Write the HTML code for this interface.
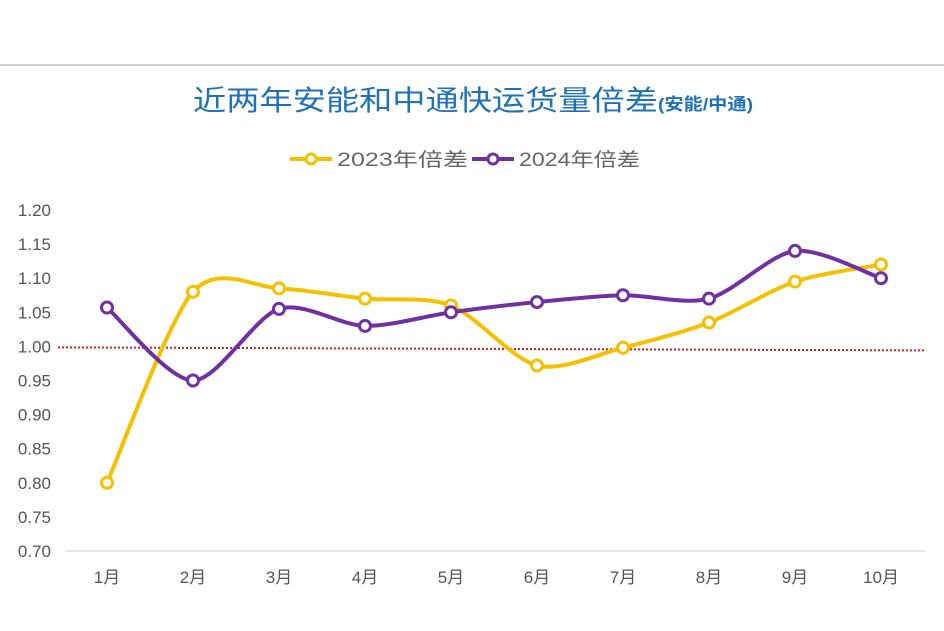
<!DOCTYPE html>
<html><head><meta charset="utf-8"><style>
body{margin:0;background:#fff;}
svg{display:block;font-family:"Liberation Sans","Noto Sans CJK SC",sans-serif;}
</style></head><body>
<svg id="c" width="944" height="631" viewBox="0 0 944 631">
<line x1="0" y1="65" x2="944" y2="65" stroke="#d0d0d0" stroke-width="2"/>
<text x="193" y="110" font-size="28" fill="#1f72b8"><tspan textLength="465" lengthAdjust="spacingAndGlyphs">近两年安能和中通快运货量倍差</tspan><tspan font-size="17" font-weight="bold" textLength="95" lengthAdjust="spacingAndGlyphs">(安能/中通)</tspan></text>
<g>
<g><line x1="290" y1="159" x2="332" y2="159" stroke="#f5c000" stroke-width="4"/><circle cx="311" cy="159" r="5" fill="#fff" stroke="#f5c000" stroke-width="3"/><text x="337" y="166" font-size="19" fill="#666" textLength="131" lengthAdjust="spacingAndGlyphs">2023年倍差</text></g>
<g><line x1="472" y1="159" x2="514" y2="159" stroke="#7030a0" stroke-width="4"/><circle cx="493" cy="159" r="5" fill="#fff" stroke="#7030a0" stroke-width="3"/><text x="519" y="166" font-size="19" fill="#666" textLength="121" lengthAdjust="spacingAndGlyphs">2024年倍差</text></g>
</g>
<g id="axes"></g><g id="plot"></g>
</svg>
<script>
const categories=["1月","2月","3月","4月","5月","6月","7月","8月","9月","10月"];
const series2023=[0.80,1.08,1.085,1.07,1.06,0.972,0.998,1.035,1.095,1.12];
const series2024=[1.057,0.95,1.055,1.03,1.05,1.065,1.075,1.07,1.14,1.10];
const yTicks=["0.70","0.75","0.80","0.85","0.90","0.95","1.00","1.05","1.10","1.15","1.20"];
const refValue=1.0;
const NS="http://www.w3.org/2000/svg";
const x0=107,dx=86,yBase=551,yMin=0.70,pxPer=682;
const X=i=>x0+i*dx, Y=v=>yBase-(v-yMin)*pxPer;
function mk(t,a,p){const e=document.createElementNS(NS,t);for(const k in a)e.setAttribute(k,a[k]);p.appendChild(e);return e;}
const ax=document.getElementById('axes'),pl=document.getElementById('plot');
yTicks.forEach(t=>{const e=mk('text',{x:51,y:Y(+t)+6,'text-anchor':'end','font-size':17,fill:'#555'},ax);e.textContent=t;

});
const bl=mk('line',{x1:65,y1:yBase,x2:925,y2:yBase,stroke:'#ccc','stroke-width':1},ax);


categories.forEach((c,i)=>{
const e=mk('text',{x:X(i),y:yBase+32,'text-anchor':'middle','font-size':17,fill:'#555'},ax);e.textContent=c;

});
const rl=mk('line',{x1:58,y1:Y(refValue)+1,x2:925,y2:Y(refValue)+4,stroke:'#d42020','stroke-width':2,'stroke-dasharray':'2 2'},pl);


function path(vals){const p=vals.map((v,i)=>[X(i),Y(v)]);let d=`M${p[0][0]},${p[0][1]}`;
for(let i=0;i<p.length-1;i++){const a=p[i-1]||p[i],b=p[i],c=p[i+1],e=p[i+2]||c,t=1/7;
d+=` C${b[0]+(c[0]-a[0])*t},${b[1]+(c[1]-a[1])*t} ${c[0]-(e[0]-b[0])*t},${c[1]-(e[1]-b[1])*t} ${c[0]},${c[1]}`;}return d;}
[[series2023,'#f5c000','2023'],[series2024,'#7030a0','2024']].forEach(([vals,col,n])=>{
const l=mk('path',{d:path(vals),fill:'none',stroke:col,'stroke-width':4},pl);


vals.forEach((v,i)=>{const c=mk('circle',{cx:X(i),cy:Y(v),r:5.5,fill:'#fff',stroke:col,'stroke-width':3},pl);

});});
</script>
</body></html>
